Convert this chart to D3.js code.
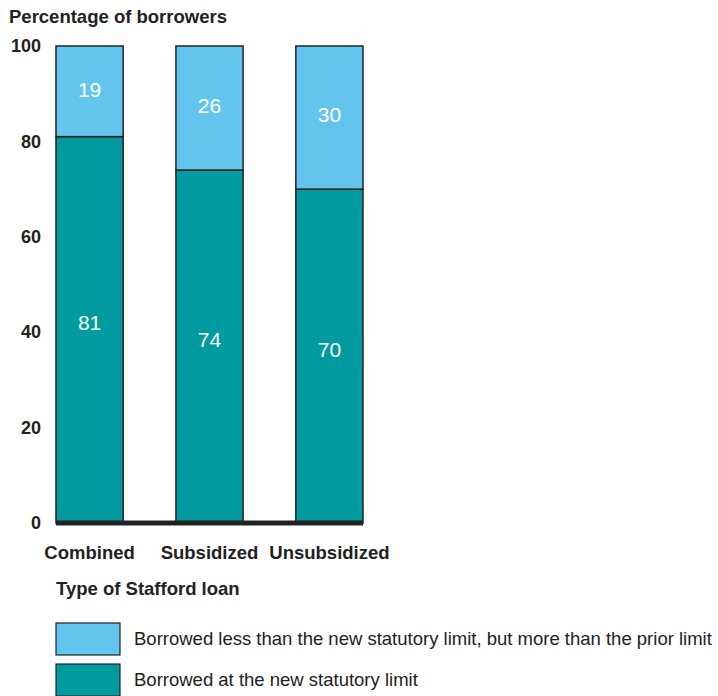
<!DOCTYPE html>
<html>
<head>
<meta charset="utf-8">
<script src="https://cdn.jsdelivr.net/npm/d3@7"></script>
<style>
  body { margin: 0; background: #fff; }
  text { font-family: "Liberation Sans", Arial, Helvetica, sans-serif; }
</style>
</head>
<body>
<script>
//chart data
var categories = ["Combined", "Subsidized", "Unsubsidized"];
var atLimit = [81, 74, 70];
var lessThanLimit = [19, 26, 30];
var yTicks = [0, 20, 40, 60, 80, 100];
var seriesNames = ["Borrowed less than the new statutory limit, but more than the prior limit",
                   "Borrowed at the new statutory limit"];
var seriesColors = ["#63c5ee", "#009b9e"];

var w = 718, h = 696;

var svg = d3.select("body").append("svg")
    .attr("width", w)
    .attr("height", h);

//scales
var y = d3.scaleLinear().domain([0, 100]).range([523, 46]);
var x = d3.scaleBand().domain(categories).range([56, 363]).paddingInner(0.44).paddingOuter(0);

//stack rows built from the arrays
var rows = categories.map(function(c, i) {
    return { cat: c, at: atLimit[i], less: lessThanLimit[i] };
});
var stack = d3.stack().keys(["at", "less"])(rows);

//y axis labels
var yAxis = d3.axisLeft(y).tickValues(yTicks).tickSize(0).tickPadding(0);
var gy = svg.append("g").attr("transform", "translate(41,0)").call(yAxis);
gy.select(".domain").remove();
gy.selectAll("text")
    .attr("font-size", 18)
    .attr("font-weight", "bold")
    .attr("fill", "#222")
    .attr("font-family", "Liberation Sans, Arial, sans-serif");

//title
svg.append("text")
    .attr("x", 9).attr("y", 23)
    .attr("font-size", 18.5).attr("font-weight", "bold").attr("fill", "#222")
    .text("Percentage of borrowers");

//bars
var layer = svg.selectAll("g.layer")
    .data(stack)
    .enter().append("g")
    .attr("class", "layer")
    .attr("fill", function(d, i) { return seriesColors[1 - i]; });

layer.selectAll("rect")
    .data(function(d) { return d; })
    .enter().append("rect")
    .attr("x", function(d) { return x(d.data.cat); })
    .attr("width", x.bandwidth())
    .attr("y", function(d) { return y(d[1]); })
    .attr("height", function(d) { return y(d[0]) - y(d[1]); })
    .attr("stroke", "#222")
    .attr("stroke-width", 1.5);

//value labels, a little above the middle of each segment
layer.selectAll("text")
    .data(function(d) { return d; })
    .enter().append("text")
    .attr("x", function(d) { return x(d.data.cat) + x.bandwidth() / 2; })
    .attr("y", function(d) {
        var hgt = y(d[0]) - y(d[1]);
        return (y(d[0]) + y(d[1])) / 2 - hgt * 0.02;
    })
    .attr("text-anchor", "middle")
    .attr("dominant-baseline", "central")
    .attr("font-size", 21)
    .attr("fill", "#fff")
    .text(function(d) { return d[1] - d[0]; });

//baseline
svg.append("line")
    .attr("x1", x.range()[0]).attr("x2", x.range()[1])
    .attr("y1", y(0)).attr("y2", y(0))
    .attr("stroke", "#222").attr("stroke-width", 5);

//category labels
var xAxis = d3.axisBottom(x).tickSize(0).tickPadding(0);
var gx = svg.append("g").attr("transform", "translate(0,546)").call(xAxis);
gx.select(".domain").remove();
gx.selectAll("text")
    .attr("font-size", 18.5)
    .attr("font-weight", "bold")
    .attr("fill", "#222")
    .attr("font-family", "Liberation Sans, Arial, sans-serif");

svg.append("text")
    .attr("x", 56).attr("y", 595)
    .attr("font-size", 18.5).attr("font-weight", "bold").attr("fill", "#222")
    .text("Type of Stafford loan");

//legend
var legend = svg.selectAll("g.legend")
    .data(seriesNames)
    .enter().append("g")
    .attr("class", "legend")
    .attr("transform", function(d, i) { return "translate(56," + (623 + i * 41) + ")"; });

legend.append("rect")
    .attr("width", 64).attr("height", 32)
    .attr("fill", function(d, i) { return seriesColors[i]; })
    .attr("stroke", "#222").attr("stroke-width", 1.2);

legend.append("text")
    .attr("x", 78).attr("y", 22)
    .attr("font-size", 18.5).attr("fill", "#222")
    .text(function(d) { return d; });
</script>
</body>
</html>
